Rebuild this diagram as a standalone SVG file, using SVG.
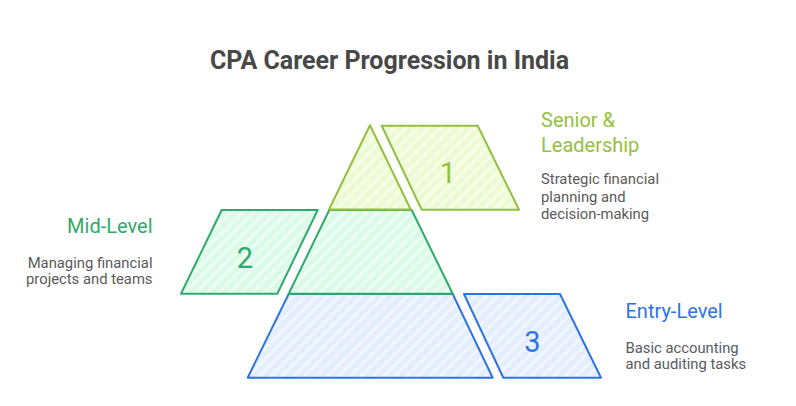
<svg xmlns="http://www.w3.org/2000/svg" width="796" height="406" viewBox="0 0 796 406">
<defs>
<pattern id="hy" width="8" height="8" patternUnits="userSpaceOnUse" patternTransform="rotate(45)">
<rect width="8" height="8" fill="#eefad3"/><rect width="3" height="8" fill="#f6fde6"/>
</pattern>
<pattern id="hg" width="8" height="8" patternUnits="userSpaceOnUse" patternTransform="rotate(45)">
<rect width="8" height="8" fill="#dcfae8"/><rect width="3" height="8" fill="#ebfdf2"/>
</pattern>
<pattern id="hb" width="8" height="8" patternUnits="userSpaceOnUse" patternTransform="rotate(45)">
<rect width="8" height="8" fill="#e4eefd"/><rect width="3" height="8" fill="#f0f5fe"/>
</pattern>
</defs>
<style>
text{font-family:Roboto,"Liberation Sans",sans-serif}
.t{font-size:25px;font-weight:bold;fill:#484848}
.h{font-size:20px}
.d{font-size:14.8px;fill:#5a5a5a}
.n{font-size:29px}
.y{stroke:#93c13f;fill:url(#hy);stroke-width:2;stroke-linejoin:round}
.g{stroke:#2eab6c;fill:url(#hg);stroke-width:2;stroke-linejoin:round}
.b{stroke:#2f73e2;fill:url(#hb);stroke-width:2;stroke-linejoin:round}
</style>
<rect width="796" height="406" fill="#ffffff"/>
<text class="t" x="389.5" y="68.5" text-anchor="middle">CPA Career Progression in India</text>

<g id="entry">
<polygon class="b" points="288.7,294 452.7,294 492.7,377.7 247.7,377.7"/>
<polygon class="b" points="464,294 560,294 601,377.7 503.3,377.7"/>
<text class="n" x="532.5" y="351.7" text-anchor="middle" fill="#2f73e2">3</text>
<text class="h" x="625.5" y="318.3" fill="#2f73e2">Entry-Level</text>
<text class="d" x="625.5" y="353.3">Basic accounting</text>
<text class="d" x="625.5" y="368.8">and auditing tasks</text>
</g>

<g id="mid">
<polygon class="g" points="329.3,210 411.7,210 452.7,293.7 288.7,293.7"/>
<polygon class="g" points="221.7,210 317.7,210 277.3,293.7 181,293.7"/>
<text class="n" x="245" y="268.3" text-anchor="middle" fill="#2eab6c">2</text>
<text class="h" x="152.5" y="233.3" text-anchor="end" fill="#2eab6c">Mid-Level</text>
<text class="d" x="152.5" y="268.3" text-anchor="end">Managing financial</text>
<text class="d" x="152.5" y="284" text-anchor="end">projects and teams</text>
</g>

<g id="senior">
<polygon class="y" points="370,125.3 410.7,209.5 329,209.5"/>
<polygon class="y" points="381.7,125.7 477.7,125.7 519,209.7 421.7,209.7"/>
<text class="n" x="448" y="183.3" text-anchor="middle" fill="#93c13f">1</text>
<text class="h" x="541" y="126.7" fill="#93c13f">Senior &amp;</text>
<text class="h" x="541" y="151.7" fill="#93c13f">Leadership</text>
<text class="d" x="541" y="184.3">Strategic financial</text>
<text class="d" x="541" y="201.8">planning and</text>
<text class="d" x="541" y="219.3">decision-making</text>
</g>

<g id="connectors"></g>
</svg>
